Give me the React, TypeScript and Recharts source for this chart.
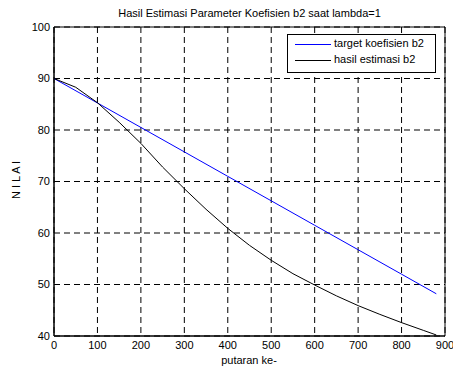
import { LineChart, Line, XAxis, YAxis, CartesianGrid, ReferenceArea } from 'recharts'

// hasil estimasi b2 (black curve)
const estimasiX = [0, 50, 100, 150, 200, 250, 300, 350, 400, 450, 500, 550, 600, 650, 700, 750, 800, 850, 880]
const estimasiY = [90, 88.3, 85.3, 81.5, 77.4, 72.8, 68.6, 64.6, 60.9, 57.6, 54.7, 52.1, 49.9, 47.8, 45.9, 44.2, 42.6, 41.1, 40.2]

// target koefisien b2 (blue line)
const targetX = [0, 100, 200, 300, 400, 500, 600, 700, 800, 880]
const targetY = [90, 85.25, 80.5, 75.75, 71, 66.25, 61.5, 56.75, 52, 48.2]

const xTicks = [0, 100, 200, 300, 400, 500, 600, 700, 800, 900]
const yTicks = [40, 50, 60, 70, 80, 90, 100]

const estimasiData = estimasiX.map((x, i) => ({ x, y: estimasiY[i] }))
const targetData = targetX.map((x, i) => ({ x, y: targetY[i] }))

const font = '"Liberation Sans", Arial, sans-serif'

export default function App() {
  return (
    <div style={{ position: 'absolute', left: 0, top: 0, width: 453, height: 372, background: '#fff', fontFamily: font }}>
      <LineChart width={453} height={372} margin={{ top: 27, right: 8, bottom: 6, left: 0 }}>
        <CartesianGrid stroke="#000" strokeDasharray="6 4" />
        <XAxis
          dataKey="x"
          type="number"
          domain={[0, 900]}
          ticks={xTicks}
          allowDataOverflow
          height={30}
          tickLine={false}
          tickSize={0}
          tickMargin={5}
          axisLine={{ stroke: '#000' }}
          tick={{ fontSize: 11, fill: '#000', fontFamily: font }}
          interval={0}
        />
        <YAxis
          type="number"
          domain={[40, 100]}
          ticks={yTicks}
          allowDataOverflow
          width={54}
          tickLine={false}
          tickSize={0}
          tickMargin={4}
          axisLine={{ stroke: '#000' }}
          tick={{ fontSize: 11, fill: '#000', fontFamily: font }}
          interval={0}
        />
        <ReferenceArea x1={0} x2={900} y1={40} y2={100} fill="none" stroke="#000" strokeWidth={1} ifOverflow="visible" />
        <Line data={targetData} dataKey="y" stroke="#0000ff" strokeWidth={1} dot={false} isAnimationActive={false} />
        <Line data={estimasiData} dataKey="y" stroke="#000" strokeWidth={1} dot={false} isAnimationActive={false} />
      </LineChart>

      <div style={{ position: 'absolute', left: 0, width: 453, top: 7, textAlign: 'center', paddingLeft: 46, boxSizing: 'border-box', fontSize: 11 }}>
        Hasil Estimasi Parameter Koefisien b2 saat lambda=1
      </div>
      <div style={{ position: 'absolute', left: 249 - 40, width: 80, top: 354, textAlign: 'center', fontSize: 11 }}>
        putaran ke-
      </div>
      <div style={{ position: 'absolute', left: 16 - 40, top: 181 - 7, width: 80, textAlign: 'center', fontSize: 11, transform: 'rotate(-90deg)' }}>
        N I L A I
      </div>

      <div style={{ position: 'absolute', left: 287, top: 34, width: 147, height: 37, border: '1px solid #000', background: '#fff', fontSize: 11 }}>
        <div style={{ position: 'absolute', left: 7, top: 9, width: 36, height: 1, background: '#0000ff' }} />
        <div style={{ position: 'absolute', left: 46, top: 2 }}>target koefisien b2</div>
        <div style={{ position: 'absolute', left: 7, top: 25, width: 36, height: 1, background: '#000' }} />
        <div style={{ position: 'absolute', left: 46, top: 18 }}>hasil estimasi b2</div>
      </div>
    </div>
  )
}
